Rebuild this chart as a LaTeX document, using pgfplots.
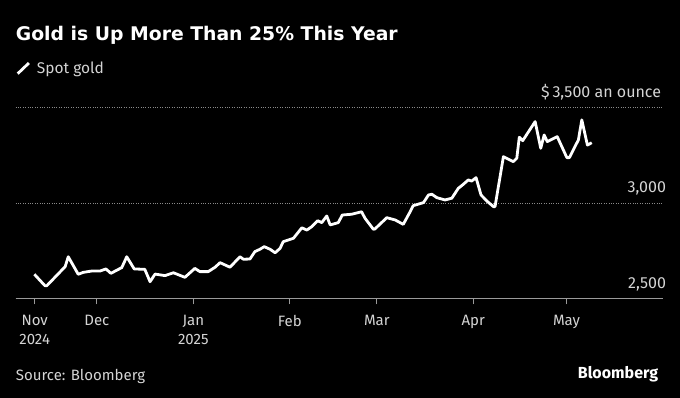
\documentclass[border=0pt]{standalone}
\usepackage{pgfplots}
\pgfplotsset{compat=1.18}
\usepackage{fontspec}
\setmainfont{Fira Sans}
\newfontfamily\titlefont{DejaVu Sans}
\definecolor{axisgray}{HTML}{9A9A9A}
\definecolor{gridgray}{HTML}{8A8A8A}
\definecolor{labelgray}{HTML}{D4D4D4}
\newcommand{\rl}[1]{\smash{\llap{#1}}}
\pgfplotstableread{
x y
-51.1 2626
-47.7 2566
-47.1 2566
-41.2 2666
-40.2 2718
-37.0 2626
-35.4 2636
-32.7 2643
-30.0 2643
-28.1 2654
-26.5 2631
-23.0 2661
-21.4 2718
-19.0 2654
-15.6 2652
-13.9 2587
-12.3 2627
-9.1 2619
-6.4 2634
-2.7 2610
0.5 2657
2.1 2640
4.8 2640
7.0 2663
8.6 2687
11.8 2663
15.0 2718
16.1 2705
18.2 2706
19.8 2745
21.4 2757
22.8 2771
24.7 2757
26.3 2739
27.9 2762
28.9 2797
32.2 2815
34.9 2870
36.5 2858
38.1 2876
40.0 2907
41.3 2897
42.9 2932
44.0 2885
46.6 2897
47.9 2937
50.9 2941
54.1 2954
55.2 2920
57.9 2862
58.4 2864
62.2 2923
64.9 2911
67.5 2888
69.7 2954
70.7 2986
74.0 3002
75.6 3042
76.7 3046
78.3 3028
80.9 3016
83.1 3025
85.2 3077
86.8 3098
88.4 3121
89.5 3115
90.9 3133
92.5 3042
94.6 3007
96.5 2981
97.0 2981
99.7 3243
102.9 3217
104.0 3235
104.8 3345
105.9 3327
109.9 3427
111.7 3287
112.8 3357
113.8 3322
117.0 3348
120.1 3238
120.9 3238
123.8 3331
124.9 3436
126.7 3304
128.1 3316
}\goldtable
\begin{document}
\begin{tikzpicture}[x=1pt,y=1pt]
\fill[black] (-15.7,-99.7) rectangle (664.3,298.3);
\begin{axis}[
  scale only axis,
  width=647.6pt, height=190.6pt,
  xmin=-57.1, xmax=151.1, ymin=2500, ymax=3500,
  axis x line=bottom, axis y line=right,
  x axis line style={-, draw=axisgray, line width=1.2pt},
  y axis line style={draw=none},
  tick align=outside, major tick length=6pt,
  xtick={-51,-31,0,31,59,90,120},
  xticklabels={Nov\\2024,Dec,Jan\\2025,Feb,Mar,Apr,May},
  xtick style={draw=axisgray, line width=1pt},
  xticklabel style={align=center, inner sep=0pt, anchor=north, yshift=-11pt, font=\fontsize{15}{18.5}\selectfont, text=labelgray},
  ytick={2500,3000,3500},
  yticklabels={{\rl{2,500}},{\rl{3,000}},{\rl{\$\hspace{3pt}3,500 an ounce\hspace{5pt}}}},
  ytick style={draw=none},
  yticklabel style={inner sep=0pt, xshift=-4pt, yshift=10pt, font=\fontsize{16}{18}\selectfont, text=labelgray},
  ymajorgrids, grid style={gridgray, dotted, line width=0.8pt},
]
\addplot[white, line width=2.8pt, line join=round] table[x=x, y=y] {\goldtable};
\end{axis}
\node[anchor=base west, inner sep=0pt, text=white, font=\titlefont\fontsize{18.8}{22}\selectfont\bfseries] at (0,257.6) {Gold is Up More Than 25\% This Year};
\draw[white, line width=2.8pt] (2.0,224.6) -- (13.2,235.3);
\node[anchor=base west, inner sep=0pt, text=labelgray, font=\fontsize{15.5}{18}\selectfont] at (21.0,224.3) {Spot gold};
\node[anchor=base west, inner sep=0pt, text=labelgray, font=\fontsize{15}{18}\selectfont] at (0,-82.4) {Source: Bloomberg};
\node[anchor=base east, inner sep=0pt, text=white, font=\fontsize{16}{18}\selectfont\bfseries] at (642.6,-80) {Bloomberg};
\pgfresetboundingbox
\useasboundingbox (-15.7,-99.7) rectangle (664.3,298.3);
\end{tikzpicture}
\end{document}
